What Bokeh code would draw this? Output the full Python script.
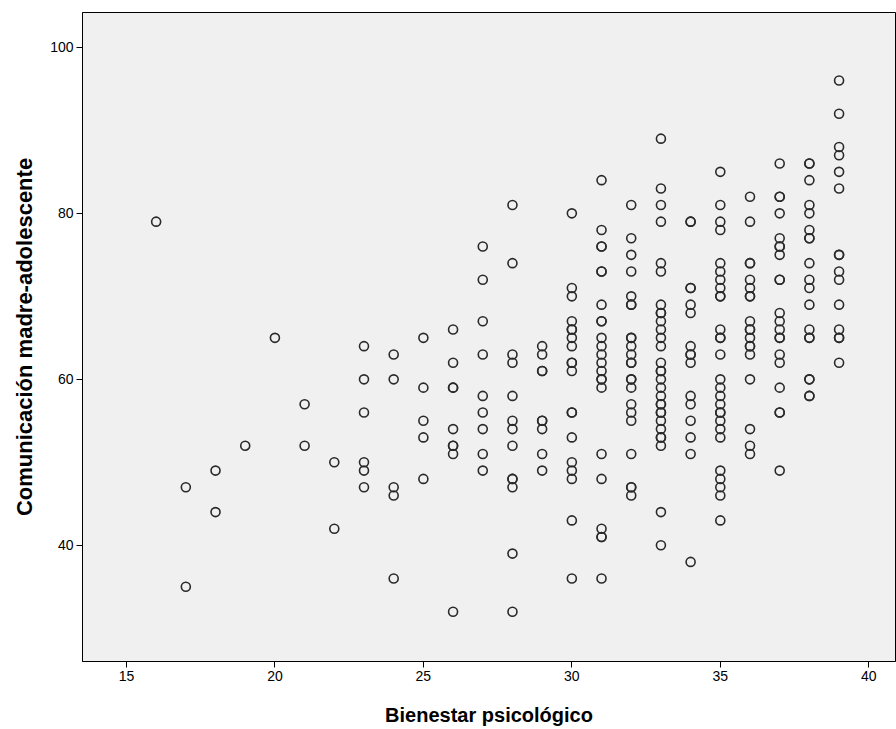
from bokeh.plotting import figure
from bokeh.models import Range1d, FixedTicker
from bokeh.embed import file_html
from bokeh.resources import INLINE

# Bienestar psicológico (x) and the Comunicación madre-adolescente values seen at each x
bienestar = [16, 17, 18, 19, 20, 21, 22, 23, 24, 25, 26, 27, 28, 29, 30,
             31, 32, 33, 34, 35, 36, 37, 38, 39]
comunicacion = [
    [79],
    [47, 35],
    [49, 44],
    [52],
    [65],
    [57, 52],
    [50, 42],
    [64, 60, 56, 50, 49, 47],
    [63, 60, 47, 46, 36],
    [65, 59, 55, 53, 48],
    [66, 62, 59, 59, 54, 52, 52, 51, 32],
    [76, 72, 67, 63, 58, 56, 54, 51, 49],
    [81, 74, 63, 62, 58, 55, 54, 52, 48, 48, 47, 39, 32],
    [64, 63, 61, 61, 55, 55, 54, 51, 49],
    [80, 71, 70, 67, 66, 66, 65, 64, 62, 62, 61, 56, 56, 53, 50, 49, 48, 43, 36],
    [84, 78, 76, 76, 73, 73, 69, 67, 67, 65, 64, 63, 62, 61, 60, 60, 59, 51, 48, 42, 41, 41, 36],
    [81, 77, 75, 73, 70, 69, 69, 65, 65, 64, 63, 62, 62, 60, 60, 59, 57, 56, 55, 51, 47, 47, 46],
    [89, 83, 81, 79, 74, 73, 69, 68, 68, 67, 66, 65, 64, 62, 61, 61, 60, 59, 58, 57, 57, 56, 56,
     55, 54, 53, 53, 52, 44, 40],
    [79, 79, 71, 71, 69, 68, 64, 63, 63, 62, 58, 57, 55, 53, 51, 38],
    [85, 81, 79, 78, 74, 73, 72, 71, 70, 70, 66, 65, 65, 63, 60, 59, 58, 57, 56, 56, 55, 54, 53,
     49, 48, 47, 46, 43],
    [82, 79, 74, 74, 72, 71, 70, 70, 67, 66, 66, 65, 64, 64, 63, 60, 54, 52, 51],
    [86, 82, 82, 80, 77, 76, 76, 75, 72, 72, 68, 67, 66, 65, 65, 63, 62, 59, 56, 56, 49],
    [86, 86, 84, 81, 80, 78, 77, 77, 74, 72, 71, 69, 66, 65, 65, 60, 60, 58, 58],
    [96, 92, 88, 87, 85, 83, 75, 75, 73, 72, 69, 66, 65, 65, 62],
]
x_ticks = [15, 20, 25, 30, 35, 40]
y_ticks = [40, 60, 80, 100]

xs, ys = [], []
for xv, group in zip(bienestar, comunicacion):
    for yv in group:
        xs.append(xv)
        ys.append(yv)

p = figure(width=896, height=729, output_backend="svg", toolbar_location=None,
           x_range=Range1d(13.52, 40.9), y_range=Range1d(26.0, 104.2),
           min_border_left=82, min_border_right=1, min_border_top=12,
           min_border_bottom=68)

p.background_fill_color = "#F0F0F0"
p.border_fill_color = "white"
p.outline_line_color = "black"
p.outline_line_width = 1
p.grid.visible = False

p.scatter(xs, ys, marker="circle", size=9, fill_color=None,
          line_color="#2a2a2a", line_width=1.6)

for ax in (p.xaxis[0], p.yaxis[0]):
    ax.axis_line_color = "black"
    ax.major_tick_line_color = "black"
    ax.major_tick_out = 6
    ax.major_tick_in = 0
    ax.minor_tick_line_color = None
    ax.major_label_text_font = "Liberation Sans"
    ax.major_label_text_font_size = "14px"
    ax.major_label_text_color = "black"
    ax.axis_label_text_font = "Liberation Sans"
    ax.axis_label_text_font_style = "bold"
    ax.axis_label_text_color = "black"

p.xaxis.axis_label_text_font_size = "20px"
p.yaxis.axis_label_text_font_size = "22px"
p.xaxis.ticker = FixedTicker(ticks=x_ticks)
p.yaxis.ticker = FixedTicker(ticks=y_ticks)
p.xaxis.axis_label = "Bienestar psicológico"
p.yaxis.axis_label = "Comunicación madre-adolescente"
p.xaxis.major_label_standoff = 3
p.xaxis.axis_label_standoff = 20
p.yaxis.major_label_standoff = 3
p.yaxis.axis_label_standoff = 10

open("out.html", "w").write(file_html(p, INLINE))
